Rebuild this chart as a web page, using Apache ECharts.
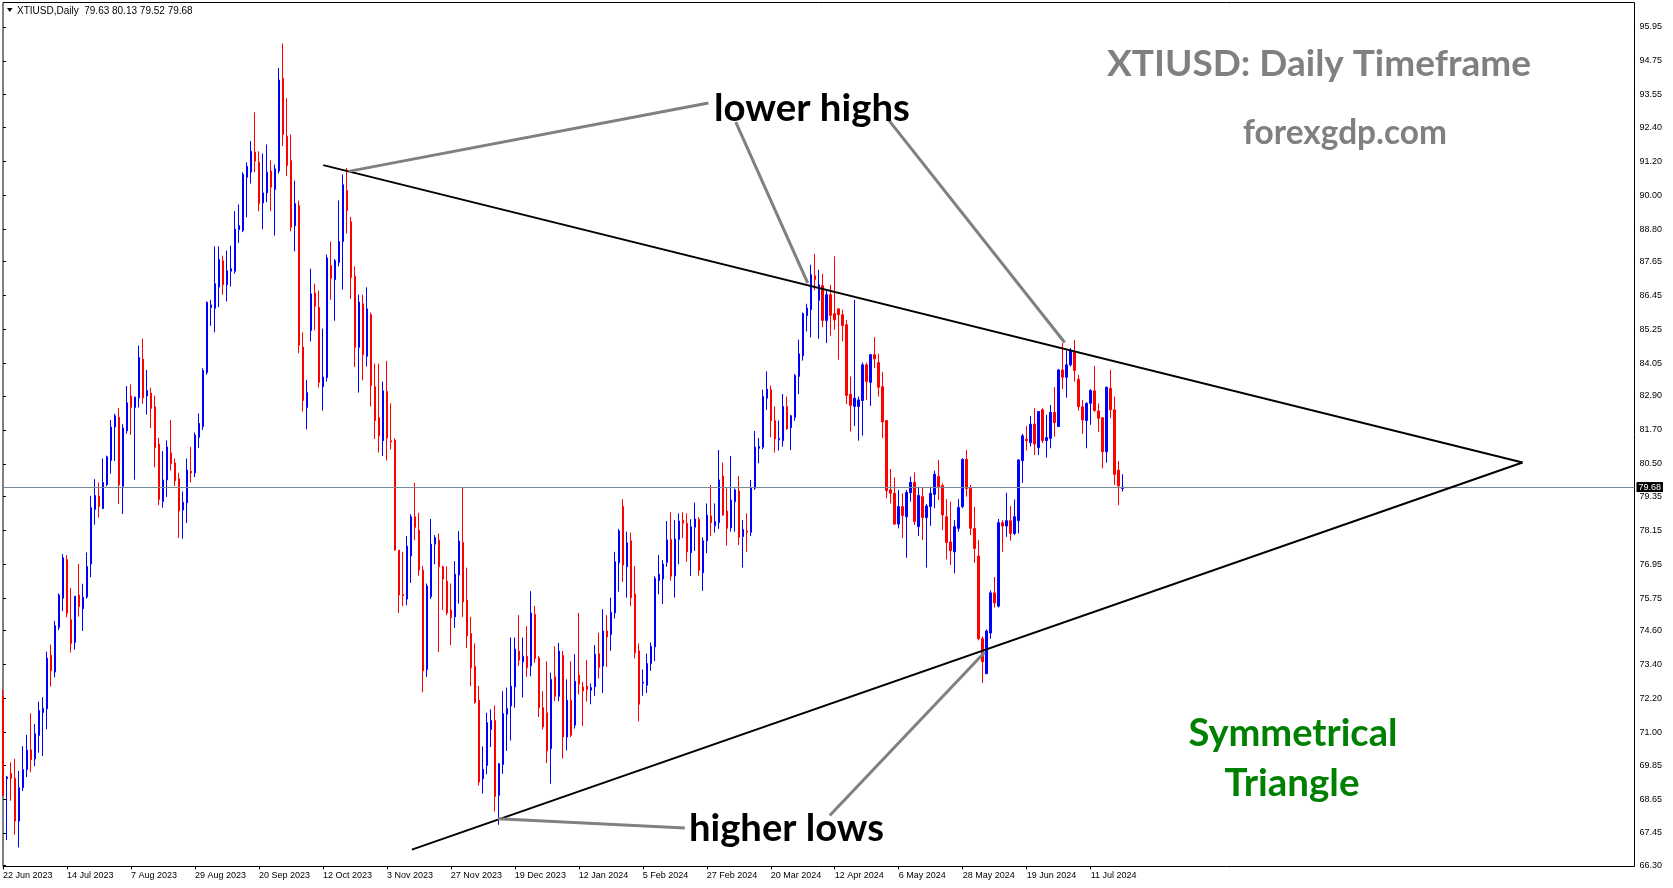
<!DOCTYPE html>
<html><head><meta charset="utf-8">
<script src="https://cdn.jsdelivr.net/npm/echarts@6/dist/echarts.min.js"></script>
<style>html,body{margin:0;padding:0;background:#fff}#c{width:1673px;height:888px}</style>
</head><body><div id="c"></div>
<script>
// ---- data (daily XTIUSD candles) ----
const opens = [
72.29,69.37,69.56,69.38,67.87,69.05,69.69,70.39,70.07,70.90,
71.71,71.84,73.73,73.14,74.72,75.75,77.12,74.99,74.19,75.86,
75.38,75.79,76.96,78.89,79.36,78.92,79.77,80.62,81.80,82.15,
79.71,81.67,82.90,82.49,82.83,84.20,82.90,83.00,82.52,81.20,
79.17,79.93,80.89,80.53,79.97,78.87,79.12,80.24,80.18,81.44,
81.82,83.73,86.03,86.00,86.75,87.68,86.83,87.31,87.31,88.78,
88.75,90.63,90.81,91.52,91.16,89.72,90.08,90.85,90.20,90.85,
94.13,92.08,91.22,88.92,89.63,84.63,82.49,85.21,86.54,86.03,
83.23,83.55,87.51,87.01,87.62,88.36,90.16,89.06,87.13,84.62,
86.16,84.30,85.77,83.23,82.14,81.32,83.06,81.32,81.34,77.45,
75.88,75.72,77.24,78.63,78.16,76.74,73.23,75.80,77.66,77.80,
76.86,76.35,75.33,75.09,76.57,77.72,75.68,74.50,73.34,72.14,
69.37,69.84,71.11,71.43,68.78,69.87,71.65,71.94,72.61,73.88,
73.50,73.70,73.36,75.18,73.64,71.88,71.70,70.43,72.97,72.28,
73.73,70.84,72.14,71.26,73.03,72.61,72.64,72.50,72.62,73.79,
73.35,74.59,74.47,75.23,77.00,78.99,76.86,77.78,75.90,73.89,
72.75,72.67,73.44,74.03,76.37,76.43,77.02,77.83,76.54,77.83,
78.51,78.40,77.36,78.26,78.54,76.65,77.78,78.66,78.31,78.42,
80.07,78.83,78.24,79.16,79.54,77.93,78.13,78.08,79.64,81.05,
81.09,82.82,83.12,82.03,81.35,81.32,82.53,81.78,82.14,83.59,
84.32,85.74,85.95,87.15,86.28,86.80,85.57,86.48,85.81,85.98,
85.77,85.42,82.96,82.53,82.53,82.74,84.00,83.38,84.36,84.08,
83.23,82.03,79.58,79.46,78.37,78.99,78.63,79.48,79.85,78.28,
79.34,78.60,78.99,79.42,80.05,79.73,78.63,77.74,77.39,78.22,
78.99,80.66,79.63,78.22,77.24,74.32,73.08,74.52,75.94,75.47,
78.42,78.30,78.49,78.04,78.49,80.61,81.37,81.25,81.91,81.07,
82.41,81.32,81.40,82.32,81.82,83.82,83.56,84.00,84.47,83.49,
82.52,82.03,82.64,83.08,82.37,82.13,80.93,83.17,82.41,80.28,
79.63];
const highs = [
72.51,69.47,69.94,70.07,69.64,70.52,70.92,71.68,71.30,72.09,
72.25,73.86,74.11,74.95,75.92,77.31,77.27,76.11,75.83,76.96,
76.26,77.37,79.37,79.96,79.84,80.69,80.79,82.05,82.27,82.48,
81.90,83.25,83.31,82.87,84.68,84.93,83.82,83.19,82.91,81.42,
80.95,81.33,82.05,80.69,80.18,79.52,80.69,81.10,81.61,82.28,
83.88,86.24,86.30,88.19,88.19,87.86,88.04,88.21,89.43,89.67,
90.81,91.16,91.91,92.93,91.55,91.47,91.79,91.23,91.08,94.50,
95.36,93.42,92.14,90.51,89.81,85.15,83.47,87.40,86.87,86.63,
85.28,87.90,88.36,87.74,89.81,90.73,90.96,89.23,87.48,86.48,
86.48,86.74,85.85,84.04,84.04,83.41,84.14,82.64,81.40,77.45,
77.39,77.95,78.72,79.83,78.77,76.90,76.27,78.55,77.98,78.04,
76.90,76.88,76.27,77.06,78.12,79.66,76.83,75.09,74.15,72.65,
70.51,71.70,71.82,71.96,69.92,72.46,72.59,74.36,74.36,75.15,
74.36,74.76,76.00,75.48,73.71,72.46,73.52,73.12,74.05,74.17,
73.89,72.88,73.52,73.77,75.23,72.79,73.56,72.74,74.09,74.53,
75.36,75.15,75.77,77.39,78.20,79.25,78.10,78.07,76.89,74.15,
73.23,73.79,74.18,76.53,77.28,77.10,78.48,78.79,78.51,78.75,
78.79,78.75,78.54,79.13,78.61,77.90,79.10,79.75,79.10,80.99,
80.54,79.63,80.78,79.63,80.07,78.51,78.75,79.93,81.66,81.41,
83.12,83.77,83.27,82.53,82.03,82.97,82.88,82.23,83.68,84.89,
85.85,86.16,87.54,87.93,87.36,87.22,86.62,86.83,87.84,85.98,
85.95,85.59,83.59,86.30,82.88,84.08,84.08,84.39,84.98,84.39,
83.74,82.03,80.32,80.02,79.58,79.46,79.58,80.05,80.20,79.69,
79.67,79.08,79.69,80.26,80.64,79.81,79.25,79.16,78.51,79.25,
80.70,80.99,79.75,78.98,77.80,74.40,74.64,76.03,76.50,78.55,
78.51,79.48,79.01,79.24,80.66,81.56,81.84,82.19,82.47,82.35,
82.47,82.23,82.58,83.21,83.85,84.77,84.51,84.59,84.88,83.65,
82.76,82.67,83.14,83.96,82.64,82.15,83.23,83.82,82.88,80.60,
80.13];
const lows = [
68.75,67.20,68.59,67.39,66.94,68.93,69.43,69.60,69.81,70.29,
70.17,71.12,72.63,72.95,74.62,75.29,75.07,73.83,73.93,75.10,
74.59,75.73,76.49,78.35,78.60,78.90,79.71,80.15,80.60,79.08,
78.73,81.57,81.52,79.94,82.49,82.62,82.24,81.77,80.38,79.04,
78.95,79.33,80.26,79.71,77.88,77.85,78.41,79.84,80.03,81.06,
81.70,83.65,85.38,85.15,86.04,86.48,86.24,86.77,87.22,88.31,
88.69,89.22,90.41,90.81,89.43,88.80,89.75,89.43,88.57,90.76,
91.73,90.67,88.72,88.01,84.41,82.35,81.72,84.83,85.22,83.20,
82.38,83.41,86.30,85.56,87.48,86.66,88.64,86.33,83.92,83.02,
83.45,83.94,82.53,81.38,80.90,80.78,80.62,81.01,77.43,75.23,
75.47,75.50,76.29,77.80,76.54,72.42,72.97,75.72,76.95,73.85,
75.33,75.15,74.09,74.70,75.56,75.09,73.99,72.64,72.02,69.13,
68.84,69.52,70.49,68.21,67.74,69.54,70.35,70.72,71.88,73.36,
72.24,72.97,72.99,73.47,71.55,71.11,69.92,69.19,72.11,72.11,
70.08,70.37,70.84,71.14,72.35,71.23,72.10,72.00,72.30,72.91,
72.40,73.32,73.89,75.03,75.98,76.33,75.77,75.47,73.62,71.40,
72.30,72.40,73.18,73.53,75.89,75.54,76.86,76.37,75.77,76.95,
77.87,77.04,76.54,77.42,76.54,76.01,77.34,77.95,78.07,78.20,
78.66,77.61,78.10,78.10,77.63,76.83,77.39,77.95,79.58,80.52,
81.02,82.41,81.44,80.90,80.97,81.11,81.70,80.99,82.02,82.97,
84.15,85.18,84.97,86.63,84.92,85.33,84.77,85.03,85.24,84.18,
84.83,82.62,81.64,81.84,81.32,81.50,82.76,82.55,83.88,82.88,
81.41,79.28,79.10,78.34,78.22,77.87,77.18,79.16,78.34,77.95,
77.81,76.83,78.31,78.93,79.22,78.16,77.12,76.92,76.63,78.10,
78.93,79.34,77.98,77.00,74.26,72.75,73.08,74.32,75.42,75.42,
77.39,77.92,77.78,77.98,78.04,79.83,80.97,81.11,80.81,80.81,
81.23,80.72,81.05,81.46,81.80,83.14,82.84,83.94,83.41,82.38,
81.56,81.05,81.88,82.35,81.62,80.34,80.54,82.11,79.75,79.04,
79.52];
const closes = [
68.78,69.43,69.38,67.87,69.05,69.69,70.38,70.04,70.96,71.78,
71.86,73.63,73.18,74.78,75.86,77.18,75.22,74.15,75.82,75.45,
75.78,76.87,78.95,79.38,78.99,79.84,80.75,81.80,82.20,79.75,
81.77,82.66,82.49,82.86,84.26,82.83,83.09,82.46,81.07,79.24,
79.93,81.10,80.51,79.90,78.83,79.14,80.28,80.18,81.52,81.93,
83.80,86.21,86.12,86.87,87.72,86.83,87.33,87.40,88.80,88.92,
90.73,91.02,91.55,91.20,89.70,90.08,90.81,90.28,90.93,94.07,
92.14,91.05,88.86,89.70,84.69,82.74,83.02,86.51,86.07,83.38,
83.57,87.78,87.06,87.68,88.36,90.37,89.45,87.09,84.62,86.22,
84.36,85.98,83.26,82.03,81.49,83.08,81.41,81.28,77.45,75.86,
75.84,77.59,78.63,78.25,76.74,73.18,76.18,77.66,77.89,76.86,
76.42,75.23,75.06,76.60,77.77,75.62,74.42,73.29,72.06,69.25,
69.70,71.35,71.43,68.74,69.90,71.67,71.85,72.64,73.95,73.56,
73.70,73.29,75.23,73.62,71.88,71.20,70.35,72.88,72.28,73.88,
70.84,72.14,70.90,72.81,72.71,72.47,72.52,72.59,73.77,73.30,
74.59,74.38,75.25,77.04,78.13,76.92,77.71,75.77,73.82,72.00,
72.78,73.44,74.05,76.45,76.60,76.96,77.81,76.53,77.84,78.48,
78.40,77.39,78.28,78.55,76.74,77.78,78.69,78.42,78.46,79.93,
78.69,78.22,79.22,79.58,77.90,78.18,78.08,79.66,81.09,81.11,
82.88,83.14,82.03,81.38,81.40,82.53,81.74,82.20,83.62,84.39,
85.81,86.01,87.19,87.01,86.83,85.57,86.48,85.75,85.59,85.77,
85.39,82.92,82.56,82.82,82.76,84.00,83.41,84.36,84.21,83.21,
81.98,79.55,79.46,78.37,78.99,78.67,79.49,79.85,78.46,79.38,
78.60,79.01,79.46,80.13,79.69,78.69,77.72,77.43,78.28,78.96,
80.66,79.63,78.22,77.51,74.32,73.50,74.59,75.94,75.58,78.42,
78.30,78.49,78.04,78.63,80.64,81.49,81.32,81.90,81.20,82.35,
81.32,81.43,82.32,81.96,83.82,83.56,84.00,84.51,83.80,82.52,
82.05,82.64,83.09,82.38,82.11,80.93,83.21,82.41,80.13,79.72,
79.68];

const yTickLabels = ['95.95','94.75','93.55','92.40','91.20','90.00','88.80','87.65','86.45','85.25',
  '84.05','82.90','81.70','80.50','79.35','78.15','76.95','75.75','74.60','73.40','72.20','71.00',
  '69.85','68.65','67.45','66.30'];
const xTickLabels = ['22 Jun 2023','14 Jul 2023','7 Aug 2023','29 Aug 2023','20 Sep 2023','12 Oct 2023',
  '3 Nov 2023','27 Nov 2023','19 Dec 2023','12 Jan 2024','5 Feb 2024','27 Feb 2024','20 Mar 2024',
  '12 Apr 2024','6 May 2024','28 May 2024','19 Jun 2024','11 Jul 2024'];
const xTickEvery = 16;
const lastPrice = 79.68;

// trend lines and pointer lines: [bar index, price]
const upperTrend = [[80.08, 91.06], [380.0, 80.55]];
const lowerTrend = [[102.25, 66.86], [380.0, 80.55]];
const pointerLowerHighs1 = [[86.4, 90.84], [176.4, 93.26]];
const pointerLowerHighs2 = [[183.25, 92.58], [201.25, 86.89]];
const pointerLowerHighs3 = [[221.5, 92.65], [265.5, 84.79]];
const pointerHigherLows1 = [[123.75, 67.95], [170.5, 67.63]];
const pointerHigherLows2 = [[206.75, 68.07], [245.5, 73.84]];

// ---- categories: trading days (weekdays without broker holidays) ----
const TOTAL_SLOTS = 409;
const holidays = ['2023-12-25', '2024-01-01', '2024-03-29'];
const categories = [];
(function () {
  const d = new Date(Date.UTC(2023, 5, 22));
  while (categories.length < TOTAL_SLOTS) {
    const wd = d.getUTCDay();
    const iso = d.toISOString().slice(0, 10);
    if (wd !== 0 && wd !== 6 && holidays.indexOf(iso) < 0) categories.push(iso);
    d.setUTCDate(d.getUTCDate() + 1);
  }
})();
const nBars = opens.length;
const lastTick = (xTickLabels.length - 1) * xTickEvery;
const showTick = (i) => i % xTickEvery === 0 && i <= lastTick;

const AX_FONT = 'Liberation Sans';
const ANN_FONT = 'Lato';

// ---- annotation text fitting ----
const mctx = document.createElement('canvas').getContext('2d');
function fitText(a) {
  mctx.font = 'bold 100px ' + ANN_FONT;
  const w = mctx.measureText(a.text).width;
  const size = 100 * a.width / w;
  mctx.font = 'bold ' + size + 'px ' + ANN_FONT;
  mctx.textBaseline = 'alphabetic';
  const asA = mctx.measureText('H').actualBoundingBoxAscent;
  mctx.textBaseline = 'middle';
  const asM = mctx.measureText('H').actualBoundingBoxAscent;
  return { size: size, y: a.base - (asA - asM) };
}
const annotations = [
  { text: 'XTIUSD: Daily Timeframe', x: 1319, base: 75.7, width: 424, color: '#808080', align: 'center' },
  { text: 'forexgdp.com', x: 1345, base: 143.5, width: 204, color: '#808080', align: 'center' },
  { text: 'lower highs', x: 714, base: 120.5, width: 196, color: '#000000', align: 'left' },
  { text: 'higher lows', x: 689, base: 840.5, width: 195, color: '#000000', align: 'left' },
  { text: 'Symmetrical', x: 1293, base: 746, width: 209, color: '#008000', align: 'center' },
  { text: 'Triangle', x: 1292, base: 795.5, width: 135, color: '#008000', align: 'center' }
];
const graphics = annotations.map(a => {
  const f = fitText(a);
  return {
    type: 'text', x: a.x, y: f.y, z: 100, silent: true,
    style: { text: a.text, font: 'bold ' + f.size.toFixed(2) + 'px ' + ANN_FONT, fill: a.color,
      align: a.align, verticalAlign: 'middle', textAlign: a.align, textVerticalAlign: 'middle' }
  };
});
const headerText = 'XTIUSD,Daily  ' + [opens[nBars - 1], highs[nBars - 1], lows[nBars - 1], closes[nBars - 1]]
  .map(v => v.toFixed(2)).join(' ');
graphics.push({ type: 'polygon', z: 100, silent: true, shape: { points: [[7, 8], [12.5, 8], [9.75, 12]] }, style: { fill: '#000' } });
graphics.push({ type: 'text', x: 17, y: 11, z: 100, silent: true,
  style: { text: headerText, font: '10px ' + AX_FONT, fill: '#000', align: 'left', verticalAlign: 'middle',
    textAlign: 'left', textVerticalAlign: 'middle' } });

function seg(data, color, width) {
  return { type: 'line', xAxisIndex: 1, yAxisIndex: 0, data: data, symbol: 'none', silent: true,
    animation: false, clip: false, z: 5, lineStyle: { color: color, width: width, cap: 'butt' } };
}

const chart = echarts.init(document.getElementById('c'), null, { renderer: 'canvas' });
chart.setOption({
  animation: false,
  backgroundColor: '#ffffff',
  grid: { left: 2.5, right: 38.5, top: 2.5, bottom: 21.5, show: true, borderColor: '#000', borderWidth: 1, backgroundColor: '#fff' },
  xAxis: [{
    type: 'category', data: categories, boundaryGap: false,
    axisLine: { show: false },
    axisTick: { show: true, interval: (i) => showTick(i), length: 3, lineStyle: { color: '#000' } },
    axisLabel: { show: true, interval: (i) => showTick(i), formatter: (v, i) => xTickLabels[i / xTickEvery],
      align: 'left', fontSize: 9, fontFamily: AX_FONT, color: '#000', margin: 5 },
    splitLine: { show: false }
  }, {
    type: 'value', min: 0, max: TOTAL_SLOTS - 1, show: false
  }],
  yAxis: [{
    type: 'value', position: 'right', min: 66.265, max: 96.81, scale: true,
    axisLine: { show: false },
    axisTick: { show: true, length: 3, customValues: yTickLabels.map(Number), lineStyle: { color: '#000' } },
    axisLabel: { show: true, customValues: yTickLabels.map(Number), formatter: (v) => Number(v).toFixed(2),
      fontSize: 9, fontFamily: AX_FONT, color: '#000', margin: 5 },
    splitLine: { show: false }
  }],
  graphic: graphics,
  series: [
    {
      type: 'candlestick', xAxisIndex: 0, yAxisIndex: 0, barWidth: 2, silent: true, z: 2,
      data: opens.map((o, i) => [o, closes[i], lows[i], highs[i]]),
      itemStyle: { color: '#0000ff', color0: '#ff0000', borderColor: '#0000ff', borderColor0: '#ff0000', borderColorDoji: '#0000ff', borderWidth: 1 },
      emphasis: { disabled: true },
      markLine: {
        silent: true, symbol: ['none', 'none'], animation: false,
        data: [{ yAxis: lastPrice }],
        lineStyle: { color: '#778899', width: 1, type: 'solid' },
        label: { show: true, position: 'end', formatter: lastPrice.toFixed(2), color: '#fff', backgroundColor: '#000',
          fontSize: 9, fontFamily: AX_FONT, padding: [1, 2, 0, 2], distance: 2 }
      }
    },
    seg(upperTrend, '#000000', 2),
    seg(lowerTrend, '#000000', 2),
    seg(pointerLowerHighs1, '#808080', 3),
    seg(pointerLowerHighs2, '#808080', 3),
    seg(pointerLowerHighs3, '#808080', 3),
    seg(pointerHigherLows1, '#808080', 3),
    seg(pointerHigherLows2, '#808080', 3)
  ]
});
</script>
</body></html>
